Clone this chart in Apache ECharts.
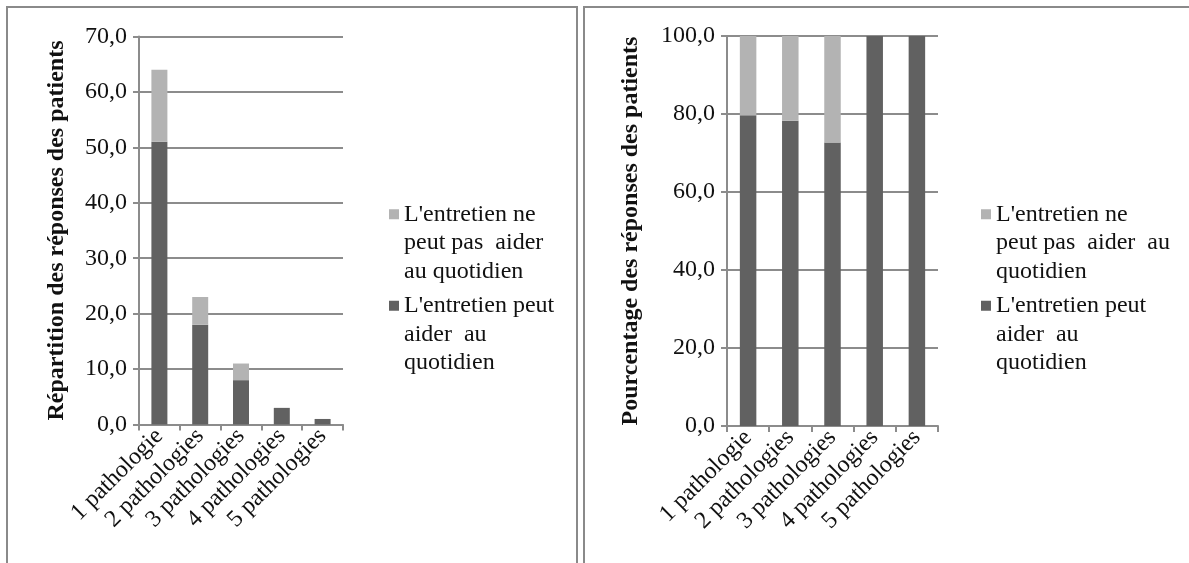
<!DOCTYPE html>
<html>
<head>
<meta charset="utf-8">
<script src="https://cdn.jsdelivr.net/npm/echarts@6/dist/echarts.min.js"></script>
<style>
html,body{margin:0;padding:0;background:#fff;}
#chart{width:1189px;height:563px;}
</style>
</head>
<body>
<div id="chart"></div>
<script>
// ---- data ----
const categories = ['1 pathologie', '2 pathologies', '3 pathologies', '4 pathologies', '5 pathologies'];
const countCanHelp = [51, 18, 8, 3, 1];
const countCannotHelp = [13, 5, 3, 0, 0];
const pctCanHelp = [79.7, 78.3, 72.7, 100, 100];
const pctCannotHelp = [20.3, 21.7, 27.3, 0, 0];
const leftTicks = {min: 0, max: 70, interval: 10};
const rightTicks = {min: 0, max: 100, interval: 20};
const leftTitle = 'Répartition des réponses des patients';
const rightTitle = 'Pourcentage des réponses des patients';
const nameCannotLeft = "L'entretien ne\npeut pas  aider\nau quotidien";
const nameCanLeft = "L'entretien peut\naider  au\nquotidien";
const nameCannotRight = "L'entretien ne\npeut pas  aider  au\nquotidien";
const nameCanRight = "L'entretien peut\naider  au\nquotidien";

// ---- styles ----
const FONT = "'Liberation Serif', 'Times New Roman', serif";
const DARK = '#616161';
const LIGHT = '#b3b3b3';
const GRID = '#8c8c8c';
const fmt = v => v.toFixed(1).replace('.', ',');
const legendIcon = 'path://M0,9H10V19H0Z M0,0h0.01v0.01h-0.01Z M0,85h0.01v0.01h-0.01Z';

function xAxis(gridIndex) {
  return {
    type: 'category', gridIndex, data: categories,
    axisLine: {lineStyle: {color: GRID, width: 2}},
    axisTick: {show: true, length: 6, lineStyle: {color: GRID, width: 2}},
    axisLabel: {rotate: 45, color: '#111', fontFamily: FONT, fontSize: 24, margin: 8, interval: 0}
  };
}
function yAxis(gridIndex, t, name, gap) {
  return {
    type: 'value', gridIndex, min: t.min, max: t.max, interval: t.interval,
    name, nameLocation: 'middle', nameGap: gap,
    nameTextStyle: {fontFamily: FONT, fontSize: 24, fontWeight: 'bold', color: '#111'},
    axisLine: {show: true, lineStyle: {color: GRID, width: 2}},
    axisTick: {show: true, length: 6, lineStyle: {color: GRID, width: 2}},
    splitLine: {show: true, lineStyle: {color: GRID, width: 2}},
    axisLabel: {formatter: fmt, color: '#111', fontFamily: FONT, fontSize: 24, margin: 12}
  };
}
function legend(left, top, names) {
  return {
    left, top, orient: 'vertical', itemWidth: 10, itemHeight: 85, itemGap: 6,
    icon: legendIcon, data: names, selectedMode: false,
    textStyle: {fontFamily: FONT, fontSize: 24, lineHeight: 28.5, color: '#111'}
  };
}

const chart = echarts.init(document.getElementById('chart'), null, {renderer: 'canvas'});
chart.setOption({
  backgroundColor: '#fff',
  animation: false,
  graphic: [
    {type: 'rect', shape: {x: 7, y: 7, width: 570, height: 620}, style: {fill: 'none', stroke: '#8a8a8a', lineWidth: 2}},
    {type: 'rect', shape: {x: 584, y: 7, width: 640, height: 620}, style: {fill: 'none', stroke: '#8a8a8a', lineWidth: 2}}
  ],
  grid: [
    {left: 139, top: 36.5, width: 204, height: 388},
    {left: 727, top: 36, width: 211, height: 390}
  ],
  legend: [
    legend(384, 195, [nameCannotLeft, nameCanLeft]),
    legend(976, 195, [nameCannotRight, nameCanRight])
  ],
  xAxis: [xAxis(0), xAxis(1)],
  yAxis: [yAxis(0, leftTicks, leftTitle, 70), yAxis(1, rightTicks, rightTitle, 84)],
  series: [
    {type: 'bar', name: nameCanLeft, stack: 'a', xAxisIndex: 0, yAxisIndex: 0, data: countCanHelp, barWidth: 16, itemStyle: {color: DARK}},
    {type: 'bar', name: nameCannotLeft, stack: 'a', xAxisIndex: 0, yAxisIndex: 0, data: countCannotHelp, barWidth: 16, itemStyle: {color: LIGHT}},
    {type: 'bar', name: nameCanRight, stack: 'b', xAxisIndex: 1, yAxisIndex: 1, data: pctCanHelp, barWidth: 16.5, itemStyle: {color: DARK}},
    {type: 'bar', name: nameCannotRight, stack: 'b', xAxisIndex: 1, yAxisIndex: 1, data: pctCannotHelp, barWidth: 16.5, itemStyle: {color: LIGHT}}
  ]
});
</script>
</body>
</html>
